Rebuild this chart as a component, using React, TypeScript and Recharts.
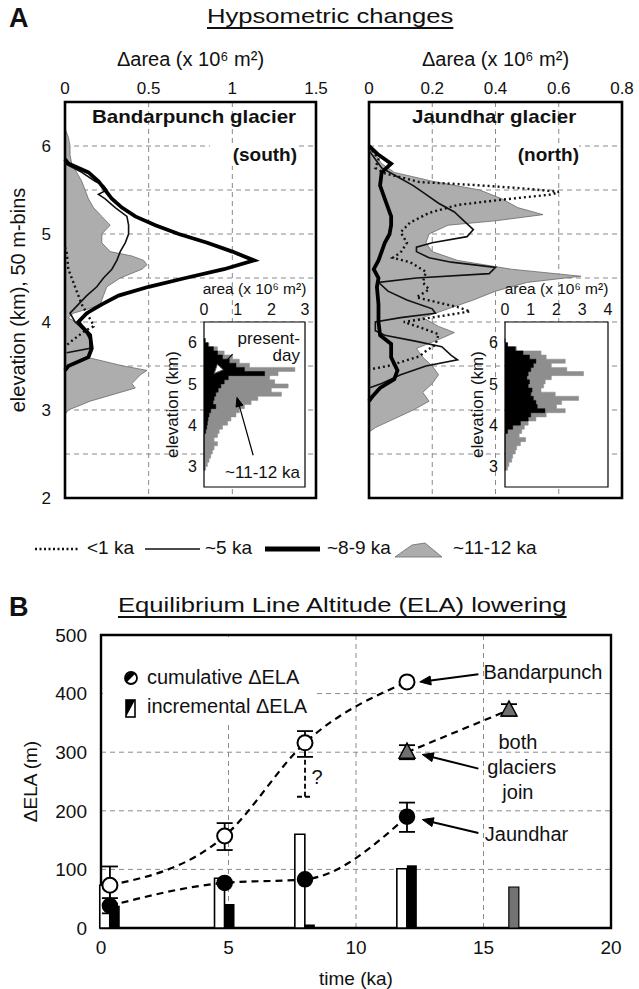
import React from "react";
import {
  ComposedChart, Line, Area, Bar, Scatter, XAxis, YAxis, CartesianGrid,
  ReferenceArea, ReferenceLine, ReferenceDot, ErrorBar,
} from "recharts";

const font = "'Liberation Sans', Arial, Helvetica, sans-serif";

// ---------- panel A: hypsometric change profiles [elevation km, Δarea 10^6 m²]
const bandLt1: [number, number][] = [
  [4.85, 0], [4.8, 0.01], [4.6, 0.02], [4.5, 0.04], [4.4, 0.06], [4.3, 0.08], [4.2, 0.1],
  [4.1, 0.13], [4.0, 0.16], [3.95, 0.17], [3.9, 0.12], [3.8, 0.05], [3.72, 0],
];
const band5: [number, number][] = [
  [5.8, 0], [5.7, 0.1], [5.6, 0.18], [5.55, 0.23], [5.5, 0.25], [5.45, 0.2], [5.4, 0.24],
  [5.3, 0.3], [5.2, 0.37], [5.1, 0.38], [5.0, 0.38], [4.9, 0.36], [4.8, 0.33], [4.7, 0.31],
  [4.6, 0.28], [4.5, 0.23], [4.4, 0.19], [4.3, 0.13], [4.2, 0.08], [4.1, 0.03], [4.0, 0.06],
  [3.9, 0.12], [3.8, 0.15], [3.7, 0.15], [3.65, 0.01],
];
const band89: [number, number][] = [
  [5.85, 0], [5.8, 0.02], [5.7, 0.14], [5.6, 0.2], [5.5, 0.24], [5.4, 0.28], [5.3, 0.34],
  [5.2, 0.42], [5.1, 0.54], [5.0, 0.68], [4.9, 0.85], [4.8, 1.0], [4.7, 1.13], [4.6, 0.95],
  [4.5, 0.72], [4.4, 0.5], [4.3, 0.32], [4.2, 0.22], [4.1, 0.13], [4.0, 0.08], [3.95, 0.1],
  [3.85, 0.15], [3.7, 0.16], [3.6, 0.14], [3.5, 0.02], [3.45, 0],
];
const band1112: [number, number][] = [
  [6.2, 0], [6.1, 0.02], [6.0, 0.03], [5.9, 0.03], [5.8, 0.04], [5.7, 0.07], [5.6, 0.1],
  [5.5, 0.12], [5.4, 0.14], [5.3, 0.17], [5.2, 0.22], [5.1, 0.27], [5.0, 0.22], [4.9, 0.22],
  [4.8, 0.27], [4.75, 0.4], [4.7, 0.47], [4.65, 0.49], [4.6, 0.46], [4.5, 0.33], [4.4, 0.25],
  [4.3, 0.23], [4.2, 0.21], [4.15, 0.14], [4.1, 0.05], [4.05, 0.02], [4.0, 0.06], [3.9, 0.13],
  [3.8, 0.15], [3.7, 0.15], [3.6, 0.13], [3.5, 0.35], [3.45, 0.49], [3.4, 0.45], [3.3, 0.4],
  [3.25, 0.42], [3.2, 0.33], [3.1, 0.15], [3.0, 0.02], [2.95, 0],
];

const jaunLt1: [number, number][] = [
  [5.95, 0.01], [5.85, 0.03], [5.75, 0.02], [5.69, 0.05], [5.59, 0.16], [5.56, 0.32],
  [5.52, 0.48], [5.48, 0.6], [5.45, 0.58], [5.39, 0.42], [5.33, 0.28], [5.24, 0.19],
  [5.13, 0.13], [5.02, 0.1], [4.9, 0.12], [4.79, 0.1], [4.73, 0.075], [4.68, 0.13],
  [4.57, 0.18], [4.45, 0.17], [4.37, 0.19], [4.28, 0.15], [4.22, 0.22], [4.17, 0.28],
  [4.12, 0.32], [4.0, 0.11], [3.94, 0.16], [3.86, 0.22], [3.74, 0.21], [3.67, 0.18],
  [3.61, 0.16], [3.5, 0.06], [3.46, 0],
];
const jaun5: [number, number][] = [
  [5.95, 0], [5.85, 0.02], [5.75, 0.04], [5.65, 0.09], [5.55, 0.14], [5.45, 0.18],
  [5.35, 0.22], [5.25, 0.27], [5.15, 0.3], [5.05, 0.33], [4.97, 0.31], [4.9, 0.2],
  [4.85, 0.15], [4.8, 0.15], [4.73, 0.19], [4.68, 0.26], [4.62, 0.4], [4.55, 0.38],
  [4.5, 0.15], [4.45, 0.03], [4.35, 0.06], [4.25, 0.12], [4.15, 0.2], [4.1, 0.21],
  [4.05, 0.1], [4.0, 0.02], [3.9, 0.02], [3.85, 0.05], [3.78, 0.15], [3.72, 0.23],
  [3.62, 0.26], [3.57, 0.28], [3.5, 0.18], [3.4, 0.1], [3.3, 0.04], [3.25, 0],
];
const jaun89: [number, number][] = [
  [6.0, 0], [5.9, 0.03], [5.8, 0.07], [5.7, 0.04], [5.55, 0.035], [5.4, 0.05], [5.3, 0.06],
  [5.2, 0.07], [5.1, 0.07], [5.0, 0.065], [4.9, 0.05], [4.8, 0.04], [4.7, 0.03], [4.6, 0.015],
  [4.5, 0.03], [4.4, 0.025], [4.2, 0.03], [4.0, 0.03], [3.85, 0.035], [3.75, 0.07],
  [3.6, 0.07], [3.45, 0.09], [3.35, 0.08], [3.25, 0.035], [3.15, 0.01], [3.1, 0],
];
const jaun1112: [number, number][] = [
  [6.02, 0], [5.9, 0.02], [5.8, 0.04], [5.7, 0.08], [5.6, 0.2], [5.5, 0.35], [5.4, 0.42],
  [5.3, 0.47], [5.22, 0.55], [5.15, 0.4], [5.1, 0.25], [5.0, 0.19], [4.9, 0.18], [4.8, 0.2],
  [4.7, 0.28], [4.6, 0.45], [4.52, 0.67], [4.45, 0.5], [4.35, 0.4], [4.25, 0.33], [4.15, 0.25],
  [4.05, 0.17], [3.95, 0.22], [3.88, 0.27], [3.8, 0.22], [3.7, 0.15], [3.6, 0.17], [3.5, 0.2],
  [3.4, 0.22], [3.3, 0.2], [3.2, 0.17], [3.1, 0.19], [3.0, 0.14], [2.9, 0.08], [2.8, 0.02],
  [2.75, 0],
];

const elevTicks = [2, 2.5, 3, 3.5, 4, 4.5, 5, 5.5, 6, 6.5];
const bandXTicks = [0, 0.5, 1, 1.5];
const jaunXTicks = [0, 0.2, 0.4, 0.6, 0.8];

// ---------- insets: area per 100 m bin (lower edge), 10^6 m²
const insetElev = [
  2.9, 3.0, 3.1, 3.2, 3.3, 3.4, 3.5, 3.6, 3.7, 3.8, 3.9, 4.0, 4.1, 4.2, 4.3, 4.4, 4.5,
  4.6, 4.7, 4.8, 4.9, 5.0, 5.1, 5.2, 5.3, 5.4, 5.5, 5.6, 5.7, 5.8, 5.9, 6.0, 6.1,
];
const bandGlacial = [
  0.05, 0.1, 0.15, 0.2, 0.25, 0.3, 0.4, 0.3, 0.4, 0.45, 0.55, 0.7, 0.8, 0.95, 1.05, 1.2, 1.4,
  1.6, 2.3, 2.0, 2.5, 2.1, 1.95, 2.2, 2.7, 1.35, 1.05, 0.85, 0.6, 0.4, 0.15, 0, 0,
];
const bandPresent = [
  0, 0, 0, 0, 0, 0, 0, 0, 0, 0.05, 0.08, 0.1, 0.12, 0.15, 0.2, 0.35, 0.27,
  0.3, 0.35, 0.42, 0.5, 0.6, 0.72, 1.8, 1.2, 0.95, 0.75, 0.55, 0.4, 0.28, 0.12, 0.04, 0,
];
const jaunGlacial = [
  0.1, 0.15, 0.26, 0.3, 0.4, 0.45, 0.6, 0.8, 0.55, 0.65, 0.75, 0.9, 1.2, 1.6, 2.34, 2.0, 2.2,
  2.86, 1.95, 1.4, 1.5, 1.56, 1.8, 3.05, 2.4, 1.8, 2.34, 1.6, 1.4, 0.45, 0.1, 0, 0,
];
const jaunPresent = [
  0, 0, 0, 0, 0, 0, 0, 0, 0, 0.1, 0.3, 0.6, 0.9, 1.0, 1.55, 1.25, 1.2,
  1.1, 1.0, 1.05, 0.9, 0.95, 0.85, 0.9, 1.0, 1.1, 1.2, 0.95, 0.7, 0.4, 0.1, 0, 0,
];

// ---------- panel B: ELA lowering
const cumT = [0.35, 4.85, 8.0, 12.0];
const bandCum = [73, 157, 316, 420];
const bandErr = [[32, 32], [24, 22], [24, 20], [0, 0]];
const jaunCum = [38, 77, 83, 190];
const jaunErr = [[13, 13], [0, 0], [0, 0], [26, 24]];
const bothT = [12.0, 16.0];
const bothCum = [300, 372];
const bothErr = [[12, 12], [10, 10]];
const bandQuery = [{ t: 8.0, v: 316, err: [92, 0] }];

const incT = [0.35, 4.85, 8.0, 12.0, 16.0];
const bandInc = [73, 85, 160, 101, null];
const jaunInc = [38, 41, 6, 107, null];
const bothInc = [null, null, null, null, 70];

const timeTicks = [0, 5, 10, 15, 20];
const elaTicks = [0, 100, 200, 300, 400, 500];

function mergeProfiles(series: Record<string, [number, number][]>) {
  const rows = new Map<number, any>();
  for (const [key, pts] of Object.entries(series)) {
    for (const [elev, val] of pts) {
      const row = rows.get(elev) ?? { elev };
      row[key] = val;
      rows.set(elev, row);
    }
  }
  return [...rows.values()].sort((a, b) => b.elev - a.elev);
}

const bandRows = mergeProfiles({ lt1: bandLt1, k5: band5, k89: band89, k1112: band1112 });
const jaunRows = mergeProfiles({ lt1: jaunLt1, k5: jaun5, k89: jaun89, k1112: jaun1112 });

const Arrow = (p: any) => {
  const { x1, y1, x2, y2, open } = p;
  const a = Math.atan2(y2 - y1, x2 - x1);
  const L = p.len ?? 11, W = p.half ?? 4.5;
  const bx = x2 - L * Math.cos(a), by = y2 - L * Math.sin(a);
  const pts = `${x2},${y2} ${bx + W * Math.sin(a)},${by - W * Math.cos(a)} ${bx - W * Math.sin(a)},${by + W * Math.cos(a)}`;
  return (
    <g>
      <line x1={x1} y1={y1} x2={bx} y2={by} stroke="#000" strokeWidth={p.sw ?? 2} />
      <polygon points={pts} fill={open ? "#fff" : "#000"} stroke={open ? "#555" : "#000"} strokeWidth={1} />
    </g>
  );
};

const inTick = { stroke: "#000", strokeWidth: 1.4 };

function ProfilePanel(props: {
  rows: any[]; xMax: number; xTicks: number[]; left: number; width: number;
  yWidth: number; marginRight: number; showY: boolean;
}) {
  const { rows, xMax, xTicks, left, width, yWidth, marginRight, showY } = props;
  return (
    <div style={{ position: "absolute", left, top: 45 }}>
      <ComposedChart layout="vertical" width={width} height={465} data={rows}
        margin={{ top: 0, right: marginRight, bottom: 12, left: 0 }}>
        <CartesianGrid stroke="#8a8a8a" strokeDasharray="5 4" />
        <XAxis type="number" orientation="top" domain={[0, xMax]} ticks={xTicks} height={57}
          tickLine={false} axisLine={false} interval={0}
          tick={{ fontSize: 17, fill: "#111", fontFamily: font }}
          label={{ value: "Δarea (x 10⁶ m²)", position: "insideTop", offset: 7, fontSize: 20, fill: "#111", fontFamily: font }} />
        <YAxis type="number" dataKey="elev" domain={[2, 6.5]} ticks={elevTicks} width={yWidth} reversed
          tickLine={false} axisLine={false} interval={0} tickMargin={8}
          tickFormatter={(v: number) => (showY && Number.isInteger(v) && v < 6.5 ? String(v) : "")}
          tick={{ fontSize: 17, fill: "#111", fontFamily: font }}
          label={showY ? { value: "elevation (km), 50 m-bins", angle: -90, position: "insideLeft", offset: 18,
            fontSize: 20, fill: "#111", fontFamily: font, style: { textAnchor: "middle" } } : undefined} />
        <XAxis xAxisId="tt" type="number" orientation="top" mirror domain={[0, xMax]} ticks={xTicks}
          tick={false} axisLine={false} tickSize={5} tickLine={inTick} />
        <XAxis xAxisId="tb" type="number" orientation="bottom" mirror domain={[0, xMax]} ticks={xTicks}
          tick={false} axisLine={false} tickSize={5} tickLine={inTick} />
        <YAxis yAxisId="tr" type="number" dataKey="elev" orientation="right" mirror reversed domain={[2, 6.5]}
          ticks={elevTicks} tick={false} axisLine={false} tickSize={5} tickLine={inTick} />
        <YAxis yAxisId="tl" type="number" dataKey="elev" orientation="left" mirror reversed domain={[2, 6.5]}
          ticks={elevTicks} tick={false} axisLine={false} tickSize={5} tickLine={inTick} />
        <Area dataKey="k1112" type="linear" fill="#adadad" fillOpacity={1} stroke="#6a6a6a" strokeWidth={0.8}
          connectNulls isAnimationActive={false} />
        <Line dataKey="lt1" type="linear" stroke="#111" strokeWidth={2.4} strokeDasharray="2 3"
          dot={false} connectNulls isAnimationActive={false} />
        <Line dataKey="k5" type="linear" stroke="#111" strokeWidth={1.6}
          dot={false} connectNulls isAnimationActive={false} />
        <Line dataKey="k89" type="linear" stroke="#000" strokeWidth={3.8}
          dot={false} connectNulls isAnimationActive={false} />
        <ReferenceArea x1={0} x2={xMax} y1={2} y2={6.5} fill="none" stroke="#000" strokeWidth={2.6} />
      </ComposedChart>
    </div>
  );
}

function HistInset(props: {
  glacial: number[]; present: number[]; xMax: number; left: number; titleOffset: number;
  children?: React.ReactNode;
}) {
  const { glacial, present, xMax, left, titleOffset } = props;
  const rows = insetElev.map((e, i) => ({ elev: e, glacial: glacial[i], present: present[i] }));
  const xTicks = Array.from({ length: xMax + 1 }, (_, i) => i);
  return (
    <div style={{ position: "absolute", left, top: 280 }}>
      <ComposedChart layout="vertical" width={left > 400 ? 152 : 150} height={212} data={rows}
        margin={{ top: 0, right: 5, bottom: 5, left: 0 }}>
        <CartesianGrid fill="#fff" horizontal={false} vertical={false} />
        <XAxis type="number" orientation="top" domain={[0, xMax]} ticks={xTicks} height={42}
          tickLine={false} axisLine={false} interval={0} tickMargin={1}
          tick={{ fontSize: 16, fill: "#111", fontFamily: font }}
          label={{ value: "area (x 10⁶ m²)", position: "insideTop", offset: 3, fontSize: 15.5, fill: "#111", fontFamily: font }} />
        <YAxis type="number" dataKey="elev" domain={[2.5, 6.5]} ticks={[3, 4, 5, 6]} width={44} reversed
          tickLine={false} axisLine={false} interval={0} tickMargin={1}
          tick={{ fontSize: 16, fill: "#111", fontFamily: font }}
          label={{ value: "elevation (km)", angle: -90, position: "insideLeft", offset: titleOffset,
            fontSize: 17, fill: "#111", fontFamily: font, style: { textAnchor: "middle" } }} />
        <XAxis xAxisId="tt" type="number" orientation="top" mirror domain={[0, xMax]} ticks={xTicks}
          tick={false} axisLine={false} tickSize={3} tickLine={{ stroke: "#000", strokeWidth: 1 }} />
        <XAxis xAxisId="tb" type="number" orientation="bottom" mirror domain={[0, xMax]} ticks={xTicks}
          tick={false} axisLine={false} tickSize={3} tickLine={{ stroke: "#000", strokeWidth: 1 }} />
        <YAxis yAxisId="tr" type="number" dataKey="elev" orientation="right" mirror reversed domain={[2.5, 6.5]}
          ticks={[3, 4, 5, 6]} tick={false} axisLine={false} tickSize={3} tickLine={{ stroke: "#000", strokeWidth: 1 }} />
        <Area dataKey="glacial" type="stepBefore" fill="#8e8e8e" fillOpacity={1} stroke="#8e8e8e"
          strokeWidth={0.5} isAnimationActive={false} />
        <Area dataKey="present" type="stepBefore" fill="#000" fillOpacity={1} stroke="#000"
          strokeWidth={0.5} isAnimationActive={false} />
        {props.children}
        <ReferenceArea x1={0} x2={xMax} y1={2.5} y2={6.5} fill="none" stroke="#000" strokeWidth={1.2} />
      </ComposedChart>
    </div>
  );
}

const txt = (extra: React.CSSProperties): React.CSSProperties => ({
  position: "absolute", fontFamily: font, color: "#111", whiteSpace: "nowrap", ...extra,
});
const wide = (sx: number): React.CSSProperties => ({ transform: `scaleX(${sx})`, transformOrigin: "left top" });

function LegendA() {
  const y = 537;
  return (
    <>
      <svg style={{ position: "absolute", left: 0, top: y }} width={639} height={24}>
        <line x1={35} y1={12} x2={80} y2={12} stroke="#111" strokeWidth={2.5} strokeDasharray="2 2.5" />
        <line x1={145} y1={12} x2={200} y2={12} stroke="#111" strokeWidth={1.6} />
        <line x1={265} y1={12} x2={320} y2={12} stroke="#000" strokeWidth={5} />
        <polygon points="395,20 412,8 425,6 442,20" fill="#adadad" stroke="#6a6a6a" strokeWidth={0.8} />
      </svg>
      <div style={txt({ left: 87, top: y, fontSize: 19 })}>&lt;1 ka</div>
      <div style={txt({ left: 205, top: y, fontSize: 19 })}>~5 ka</div>
      <div style={txt({ left: 327, top: y, fontSize: 19 })}>~8-9 ka</div>
      <div style={txt({ left: 453, top: y, fontSize: 19 })}>~11-12 ka</div>
    </>
  );
}

function LegendB() {
  return (
    <div style={{ position: "absolute", left: 103, top: 637, width: 214, height: 88, background: "#fff" }}>
      <svg style={{ position: "absolute", left: 20, top: 33 }} width={16} height={50}>
        <circle cx={8} cy={8} r={6} fill="#fff" stroke="#000" strokeWidth={1.8} />
        <path d="M3.8,12.2 A6,6 0 0,1 12.2,3.8 Z" fill="#000" />
        <rect x={3} y={30} width={9} height={17} fill="#fff" stroke="#000" strokeWidth={1.6} />
        <path d="M3,30 L12,30 L3,47 Z" fill="#000" />
      </svg>
      <div style={txt({ left: 44, top: 29, fontSize: 20 })}>cumulative ΔELA</div>
      <div style={txt({ left: 44, top: 58, fontSize: 20 })}>incremental ΔELA</div>
    </div>
  );
}

const openCircle = (p: any) => <circle cx={p.cx} cy={p.cy} r={7.5} fill="#fff" stroke="#000" strokeWidth={2} />;
const fullCircle = (p: any) => <circle cx={p.cx} cy={p.cy} r={7.5} fill="#000" stroke="#000" strokeWidth={1.5} />;
const grayTriangle = (p: any) => (
  <polygon points={`${p.cx},${p.cy - 9} ${p.cx + 8},${p.cy + 6} ${p.cx - 8},${p.cy + 6}`}
    fill="#707070" stroke="#000" strokeWidth={1.5} />
);
const noShape = () => <g />;

const bandPts = cumT.map((t, i) => ({ t, v: bandCum[i], err: bandErr[i] }));
const jaunPts = cumT.map((t, i) => ({ t, v: jaunCum[i], err: jaunErr[i] }));
const bothPts = bothT.map((t, i) => ({ t, v: bothCum[i], err: bothErr[i] }));
const incRows = incT.map((t, i) => ({ t, bandInc: bandInc[i], jaunInc: jaunInc[i], bothInc: bothInc[i] }));

const noteStyle = { fontSize: 20, fill: "#111", fontFamily: font };

function PanelB() {
  return (
    <div style={{ position: "absolute", left: 0, top: 620 }}>
      <ComposedChart width={624} height={369} data={incRows} barGap={0}
        margin={{ top: 15, right: 13, bottom: 3, left: 0 }}>
        <CartesianGrid stroke="#8a8a8a" strokeDasharray="5 4" />
        <XAxis type="number" dataKey="t" domain={[0, 20]} ticks={timeTicks} height={58}
          tickLine={false} axisLine={false} interval={0} tickMargin={7}
          tick={{ fontSize: 19, fill: "#111", fontFamily: font }}
          label={{ value: "time (ka)", position: "insideBottom", offset: 1, fontSize: 19, fill: "#111", fontFamily: font }} />
        <YAxis type="number" domain={[0, 500]} ticks={elaTicks} width={101}
          tickLine={false} axisLine={false} interval={0} tickMargin={8}
          tick={{ fontSize: 19, fill: "#111", fontFamily: font }}
          label={{ value: "ΔELA (m)", angle: -90, position: "insideLeft", offset: 30, fontSize: 19,
            fill: "#111", fontFamily: font, style: { textAnchor: "middle" } }} />
        <XAxis xAxisId="tt" type="number" orientation="top" mirror domain={[0, 20]} ticks={timeTicks}
          tick={false} axisLine={false} tickSize={5} tickLine={inTick} />
        <XAxis xAxisId="tb" type="number" orientation="bottom" mirror domain={[0, 20]} ticks={timeTicks}
          tick={false} axisLine={false} tickSize={5} tickLine={inTick} />
        <YAxis yAxisId="tr" type="number" orientation="right" mirror domain={[0, 500]} ticks={elaTicks}
          tick={false} axisLine={false} tickSize={5} tickLine={inTick} />
        <YAxis yAxisId="tl" type="number" orientation="left" mirror domain={[0, 500]} ticks={elaTicks}
          tick={false} axisLine={false} tickSize={5} tickLine={inTick} />
        <Bar dataKey="bandInc" stackId="b" barSize={10} fill="#fff" stroke="#000" strokeWidth={1.6} isAnimationActive={false} />
        <Bar dataKey="jaunInc" stackId="j" barSize={10} fill="#000" isAnimationActive={false} />
        <Bar dataKey="bothInc" stackId="j" barSize={10} fill="#737373" stroke="#000" strokeWidth={1.2} isAnimationActive={false} />
        <Line data={bandPts} dataKey="v" type="monotone" stroke="#000" strokeWidth={2.2} strokeDasharray="7 5"
          dot={false} isAnimationActive={false} />
        <Line data={jaunPts} dataKey="v" type="monotone" stroke="#000" strokeWidth={2.2} strokeDasharray="7 5"
          dot={false} isAnimationActive={false} />
        <Line data={bothPts} dataKey="v" type="monotone" stroke="#000" strokeWidth={2.2} strokeDasharray="7 5"
          dot={false} isAnimationActive={false} />
        <Scatter data={bandQuery} dataKey="v" shape={noShape} isAnimationActive={false}>
          <ErrorBar dataKey="err" direction="y" width={8} stroke="#000" strokeWidth={1.8} strokeDasharray="5 3" />
        </Scatter>
        <Scatter data={bandPts} dataKey="v" shape={openCircle} isAnimationActive={false}>
          <ErrorBar dataKey="err" direction="y" width={8} stroke="#000" strokeWidth={1.8} />
        </Scatter>
        <Scatter data={jaunPts} dataKey="v" shape={fullCircle} isAnimationActive={false}>
          <ErrorBar dataKey="err" direction="y" width={8} stroke="#000" strokeWidth={1.8} />
        </Scatter>
        <Scatter data={bothPts} dataKey="v" shape={grayTriangle} isAnimationActive={false}>
          <ErrorBar dataKey="err" direction="y" width={8} stroke="#000" strokeWidth={1.8} />
        </Scatter>
        <ReferenceDot x={8.25} y={258} r={0} label={{ value: "?", position: "right", offset: 0, ...noteStyle }} />
        <ReferenceDot x={15.0} y={437} r={0} label={{ value: "Bandarpunch", position: "right", offset: 0, ...noteStyle }} />
        <ReferenceDot x={16.35} y={317} r={0} label={{ value: "both", position: "center", ...noteStyle }} />
        <ReferenceDot x={16.5} y={275} r={0} label={{ value: "glaciers", position: "center", ...noteStyle }} />
        <ReferenceDot x={16.35} y={232} r={0} label={{ value: "join", position: "center", ...noteStyle }} />
        <ReferenceDot x={15.05} y={160} r={0} label={{ value: "Jaundhar", position: "right", offset: 0, ...noteStyle }} />
        <ReferenceLine segment={[{ x: 14.8, y: 433 }, { x: 12.5, y: 420 }]} shape={Arrow} />
        <ReferenceLine segment={[{ x: 14.8, y: 272 }, { x: 12.6, y: 296 }]} shape={Arrow} />
        <ReferenceLine segment={[{ x: 14.8, y: 162 }, { x: 12.6, y: 185 }]} shape={Arrow} />
        <ReferenceArea x1={0} x2={20} y1={0} y2={500} fill="none" stroke="#000" strokeWidth={2.4} />
      </ComposedChart>
    </div>
  );
}

export default function App() {
  return (
    <div style={{ position: "absolute", left: 0, top: 0, width: 639, height: 989, background: "#fff", fontFamily: font }}>
      <div style={txt({ left: 9, top: 3, fontSize: 27, fontWeight: "bold" })}>A</div>
      <div style={txt({ left: 207, top: 4, fontSize: 21, textDecoration: "underline", textUnderlineOffset: 4, ...wide(1.22) })}>
        Hypsometric changes
      </div>

      <ProfilePanel rows={bandRows} xMax={1.5} xTicks={bandXTicks} left={0} width={330}
        yWidth={65} marginRight={14} showY />
      <ProfilePanel rows={jaunRows} xMax={0.8} xTicks={jaunXTicks} left={330} width={309}
        yWidth={39} marginRight={17} showY={false} />

      <div style={txt({ left: 92, top: 106, fontSize: 19, fontWeight: "bold", ...wide(1.08) })}>
        Bandarpunch glacier
      </div>
      <div style={txt({ left: 210, top: 144, width: 87, textAlign: "right", fontSize: 19, fontWeight: "bold", background: "#fff" })}>
        (south)
      </div>
      <div style={txt({ left: 412, top: 106, fontSize: 19, fontWeight: "bold", ...wide(1.08) })}>
        Jaundhar glacier
      </div>
      <div style={txt({ left: 500, top: 144, width: 79, textAlign: "right", fontSize: 19, fontWeight: "bold", background: "#fff" })}>
        (north)
      </div>

      <HistInset glacial={bandGlacial} present={bandPresent} xMax={3} left={160} titleOffset={12}>
        <ReferenceLine segment={[{ x: 0.85, y: 5.72 }, { x: 0.3, y: 5.25 }]}
          shape={(p: any) => <Arrow {...p} open sw={1.2} len={9} half={4} />} />
        <ReferenceLine segment={[{ x: 1.46, y: 3.27 }, { x: 0.98, y: 4.67 }]}
          shape={(p: any) => <Arrow {...p} sw={1.2} len={9} half={3.5} />} />
        <ReferenceDot x={2.85} y={6.12} r={0} label={{ value: "present-", position: "left", offset: 0, fontSize: 17, fill: "#111", fontFamily: font }} />
        <ReferenceDot x={2.85} y={5.69} r={0} label={{ value: "day", position: "left", offset: 0, fontSize: 17, fill: "#111", fontFamily: font }} />
        <ReferenceDot x={2.85} y={2.87} r={0} label={{ value: "~11-12 ka", position: "left", offset: 0, fontSize: 17, fill: "#111", fontFamily: font }} />
      </HistInset>
      <HistInset glacial={jaunGlacial} present={jaunPresent} xMax={4} left={461} titleOffset={16} />

      <LegendA />

      <div style={txt({ left: 9, top: 592, fontSize: 27, fontWeight: "bold" })}>B</div>
      <div style={txt({ left: 118, top: 593, fontSize: 21, textDecoration: "underline", textUnderlineOffset: 4, ...wide(1.22) })}>
        Equilibrium Line Altitude (ELA) lowering
      </div>
      <PanelB />
      <LegendB />
    </div>
  );
}
